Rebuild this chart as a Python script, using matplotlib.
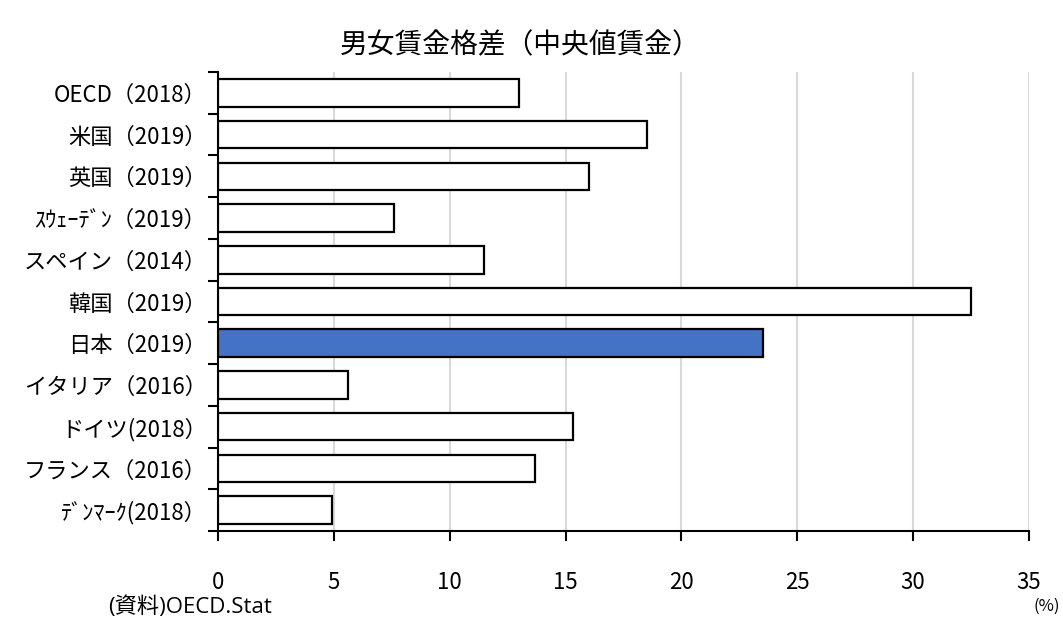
import matplotlib
matplotlib.use('Agg')
import matplotlib.pyplot as plt
import numpy as np

plt.rcParams['font.family'] = ['Noto Sans CJK JP', 'DejaVu Sans']

# data (top to bottom)
labels = ['OECD（2018）', '米国（2019）', '英国（2019）', 'ｽｳｪｰﾃﾞﾝ（2019）', 'スペイン（2014）',
          '韓国（2019）', '日本（2019）', 'イタリア（2016）', 'ドイツ(2018）', 'フランス（2016）',
          'ﾃﾞﾝﾏｰｸ(2018）']
values = [13.0, 18.5, 16.0, 7.6, 11.5, 32.5, 23.5, 5.6, 15.3, 13.7, 4.9]
highlight = '日本（2019）'

colors = ['#4472C4' if l == highlight else 'white' for l in labels]
y = np.arange(len(labels))

fig = plt.figure(figsize=(10.63, 6.27), dpi=100)
ax = fig.add_axes([218 / 1063, 1 - 531 / 627, (1029 - 218) / 1063, (531 - 72) / 627])

ax.barh(y, values, height=0.66, color=colors, edgecolor='black', linewidth=1.6, zorder=3)

ax.set_ylim(len(labels) - 0.5, -0.5)
ax.set_xlim(0, 35)
ax.set_xticks(np.arange(0, 36, 5))
ax.xaxis.grid(True, color='#d9d9d9', linewidth=1.5, zorder=0)

ax.set_yticks(y)
ax.set_yticklabels(labels, fontsize=16)
ax.set_yticks(np.arange(-0.5, len(labels)), minor=True)
ax.tick_params(axis='y', which='major', length=0, pad=8)
ax.tick_params(axis='y', which='minor', length=7, width=1.5, direction='out')
ax.tick_params(axis='x', length=7, width=1.5, direction='out', labelsize=16, pad=22)

for s in ['top', 'right']:
    ax.spines[s].set_visible(False)
for s in ['left', 'bottom']:
    ax.spines[s].set_linewidth(1.5)

fig.text(520 / 1063, 1 - 45 / 627, '男女賃金格差（中央値賃金）', fontsize=20, ha='center', va='center')
fig.text(108 / 1063, 1 - 607 / 627, '(資料)OECD.Stat', fontsize=16, ha='left', va='center',
         family=['Open Sans', 'Noto Sans CJK JP'])
fig.text(1047 / 1063, 1 - 606 / 627, '(%)', fontsize=12, ha='center', va='center')

fig.savefig('out.png', dpi=100)
